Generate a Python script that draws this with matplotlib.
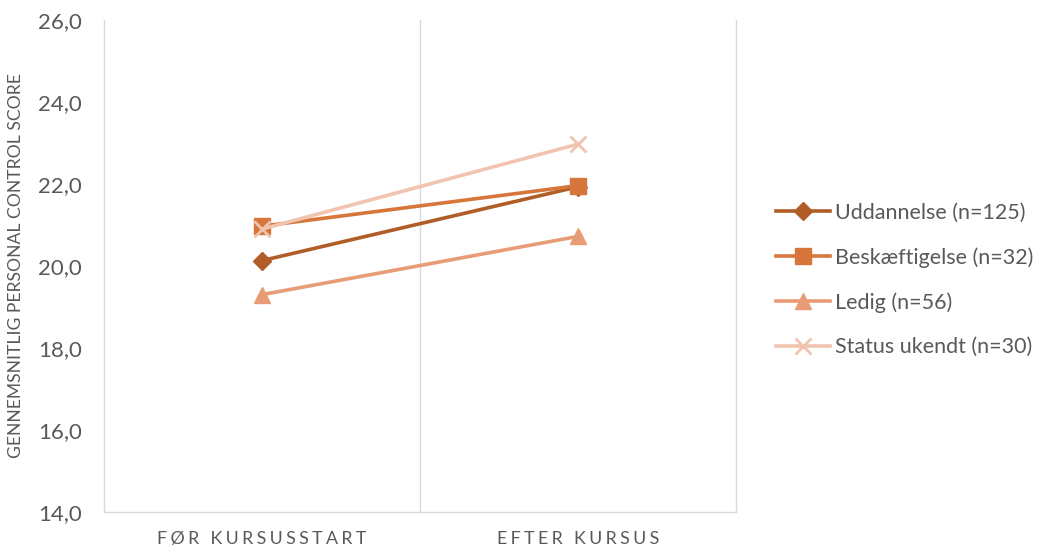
import matplotlib
matplotlib.use("Agg")
import matplotlib.pyplot as plt

plt.rcParams['font.family'] = ['Lato', 'DejaVu Sans']

categories = ["FØR KURSUSSTART", "EFTER KURSUS"]
series_names = ["Uddannelse (n=125)", "Beskæftigelse (n=32)", "Ledig (n=56)", "Status ukendt (n=30)"]
uddannelse = [20.13, 21.93]
beskaeftigelse = [20.97, 21.96]
ledig = [19.3, 20.72]
status_ukendt = [20.9, 22.97]
yticks = [14, 16, 18, 20, 22, 24, 26]

values = [uddannelse, beskaeftigelse, ledig, status_ukendt]
colors = ["#B05D27", "#D6763A", "#E89C76", "#F1C4B0"]
markers = ["D", "s", "^", "x"]
msizes = [9, 11, 12, 11]

fig = plt.figure(figsize=(10.39, 5.49), dpi=100)
ax = fig.add_axes([0.100, 0.0674, 0.608, 0.8962])

x = list(range(len(categories)))
for vals, name, c, m, ms in zip(values, series_names, colors, markers, msizes):
    kw = dict(marker=m, markersize=ms, color=c, linewidth=2.6, label=name)
    if m == "x":
        kw["markeredgewidth"] = 2
    ax.plot(x, vals, **kw)

ax.set_xlim(-0.5, 1.5)
ax.set_ylim(14, 26)
ax.set_yticks(yticks)
ax.set_yticklabels([f"{v:.1f}".replace(".", ",") for v in yticks])

def spaced(s):
    return "\u2009\u200a".join(list(s))

ax.set_xticks(x)
ax.set_xticklabels([spaced(c) for c in categories])
ax.tick_params(axis='both', length=0, colors="#595959")
ax.tick_params(axis='x', pad=14, labelsize=12.8)
ax.tick_params(axis='y', pad=16, labelsize=16)

grid_c = "#D9D9D9"
ax.axvline(0.5, color=grid_c, linewidth=1, zorder=0)
for side in ["left", "right", "bottom"]:
    ax.spines[side].set_color(grid_c)
    ax.spines[side].set_linewidth(1)
ax.spines["top"].set_visible(False)

ax.set_ylabel("GENNEMSNITLIG PERSONAL CONTROL SCORE", color="#595959", fontsize=12.6, labelpad=10)

leg = fig.legend(loc="center left", bbox_to_anchor=(0.728, 0.49), frameon=False,
                 fontsize=15.5, handlelength=2.5, handletextpad=0.25, labelspacing=1.13)
for t in leg.get_texts():
    t.set_color("#595959")

fig.savefig("out.png", dpi=100)
